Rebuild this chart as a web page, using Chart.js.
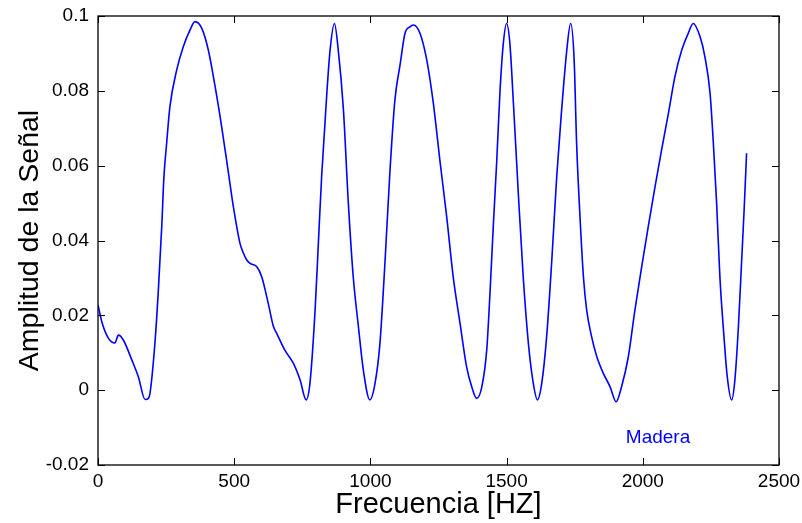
<!DOCTYPE html>
<html>
<head>
<meta charset="utf-8">
<script src="https://cdn.jsdelivr.net/npm/chart.js@4/dist/chart.umd.min.js"></script>
<style>
  html, body { margin: 0; padding: 0; background: #fff; }
  #wrap { width: 802px; height: 523px; }
</style>
</head>
<body>
<div id="wrap"><canvas id="senalChart"></canvas></div>
<script>
// frequency [Hz]
var freq = [0, 15, 38, 62, 75, 93, 124, 148, 173, 185, 191, 209, 221, 234, 242, 252, 264, 289, 313, 338,
  356, 381, 405, 430, 454, 478, 497, 521, 534, 546, 558, 583, 601, 625, 644, 656, 686, 717, 742, 764,
  778, 797, 809, 821, 840, 852, 868, 882, 901, 919, 937, 956, 974, 998, 1017, 1035, 1054, 1072, 1090, 1109,
  1127, 1145, 1158, 1182, 1207, 1231, 1255, 1280, 1304, 1329, 1353, 1372, 1390, 1409, 1427, 1439, 1451, 1464, 1476, 1488,
  1500, 1512, 1525, 1543, 1561, 1580, 1598, 1613, 1629, 1647, 1666, 1684, 1702, 1721, 1735, 1748, 1757, 1769, 1782, 1794,
  1812, 1831, 1855, 1880, 1902, 1922, 1947, 1971, 1996, 2020, 2045, 2069, 2094, 2118, 2143, 2167, 2185, 2210, 2228, 2247,
  2259, 2271, 2283, 2298, 2310, 2326, 2338, 2351, 2363, 2372, 2381];

// signal amplitude
var amp = [0.0228, 0.018, 0.0139, 0.0126, 0.0147, 0.0134, 0.0081, 0.0036, -0.0025, -0.0022, -0.0008, 0.0126, 0.026, 0.0437, 0.057, 0.066, 0.0758, 0.0856, 0.0918, 0.0963,
  0.0985, 0.0967, 0.0909, 0.0811, 0.0704, 0.0585, 0.049, 0.0393, 0.0366, 0.0348, 0.0339, 0.033, 0.0303, 0.0232, 0.017, 0.0152, 0.0107, 0.0072, 0.0027, -0.0026,
  0.0018, 0.0214, 0.0393, 0.0571, 0.0793, 0.0909, 0.098, 0.0909, 0.0749, 0.05, 0.0303, 0.017, 0.0054, -0.0026, 0.0018, 0.0125, 0.0348, 0.0588, 0.0776, 0.087,
  0.0954, 0.0971, 0.0976, 0.0954, 0.0882, 0.0767, 0.0615, 0.0464, 0.0303, 0.0179, 0.0063, 0.0009, -0.0022, 0.0009, 0.0107, 0.0259, 0.0437, 0.0615, 0.0802, 0.0927,
  0.098, 0.0927, 0.0767, 0.0526, 0.0303, 0.0125, 0.0018, -0.0026, 0.0018, 0.0143, 0.0348, 0.0571, 0.0749, 0.0909, 0.098, 0.0882, 0.066, 0.047, 0.0303, 0.0214,
  0.0143, 0.009, 0.0045, 0.0009, -0.0031, 0.0009, 0.009, 0.0214, 0.033, 0.0437, 0.0544, 0.0642, 0.074, 0.0838, 0.0909, 0.0954, 0.098, 0.0945, 0.0891, 0.0793,
  0.066, 0.05, 0.0303, 0.0143, 0.0036, -0.0026, 0.0027, 0.017, 0.0348, 0.0482, 0.0633];

var xTicks = [0, 500, 1000, 1500, 2000, 2500];
var yTicks = [-0.02, 0, 0.02, 0.04, 0.06, 0.08, 0.1];
var legendText = "Madera";
var legendPos = [2056, -0.0128];

var points = [];
for (var i = 0; i < freq.length; i++) {
  points.push({x: freq[i], y: amp[i]});
}

// box with inward ticks on all sides, like the matlab figure
var boxPlugin = {
  id: 'boxTicks',
  afterDatasetsDraw: function(chart) {
    var ctx = chart.ctx;
    var a = chart.chartArea;
    var xs = chart.scales.x, ys = chart.scales.y;
    var len = 7;
    ctx.save();
    ctx.strokeStyle = '#000';
    ctx.lineWidth = 1;
    ctx.beginPath();
    xTicks.forEach(function(v) {
      var px = Math.round(xs.getPixelForValue(v)) + 0.5;
      ctx.moveTo(px, a.bottom); ctx.lineTo(px, a.bottom - len);
      ctx.moveTo(px, a.top); ctx.lineTo(px, a.top + len);
    });
    yTicks.forEach(function(v) {
      var py = Math.round(ys.getPixelForValue(v)) + 0.5;
      ctx.moveTo(a.left, py); ctx.lineTo(a.left + len, py);
      ctx.moveTo(a.right, py); ctx.lineTo(a.right - len, py);
    });
    ctx.stroke();
    ctx.lineWidth = 1.3;
    ctx.strokeRect(a.left, a.top, a.right - a.left, a.bottom - a.top);

    ctx.fillStyle = '#0000ff';
    ctx.font = '19px "Liberation Sans", Arial, sans-serif';
    ctx.textAlign = 'center';
    ctx.textBaseline = 'middle';
    ctx.fillText(legendText, xs.getPixelForValue(legendPos[0]), ys.getPixelForValue(legendPos[1]));
    ctx.restore();
  }
};

var fontFam = '"Liberation Sans", Arial, sans-serif';

// no automatic label padding, layout padding sets the plot box
var noPad = function(scale) {
  scale.paddingTop = 0; scale.paddingBottom = 0;
  scale.paddingLeft = 0; scale.paddingRight = 0;
};

new Chart(document.getElementById('senalChart').getContext('2d'), {
  type: 'line',
  data: {
    datasets: [{
      data: points,
      borderColor: '#0000ff',
      borderWidth: 1.6,
      pointRadius: 0,
      cubicInterpolationMode: 'monotone',
      fill: false
    }]
  },
  options: {
    responsive: true,
    maintainAspectRatio: false,
    animation: false,
    layout: { padding: { top: 16, right: 23, left: 0, bottom: 0 } },
    plugins: { legend: { display: false }, tooltip: { enabled: false } },
    scales: {
      x: {
        type: 'linear',
        min: 0,
        max: 2500,
        afterBuildTicks: function(scale) {
          scale.ticks = xTicks.map(function(v) { return {value: v}; });
        },
        afterFit: function(scale) { scale.height = 58; noPad(scale); },
        grid: { display: false, drawTicks: false },
        border: { display: false },
        ticks: {
          color: '#000', padding: 5, maxRotation: 0, font: { family: fontFam, size: 19 },
          callback: function(v) { return String(v); }
        },
        title: { display: true, text: 'Frecuencia [HZ]', color: '#000', padding: { top: 0, bottom: 1 }, font: { family: fontFam, size: 29 } }
      },
      y: {
        type: 'linear',
        min: -0.02,
        max: 0.1,
        afterBuildTicks: function(scale) {
          scale.ticks = yTicks.map(function(v) { return {value: v}; });
        },
        afterFit: function(scale) { scale.width = 98; noPad(scale); },
        grid: { display: false, drawTicks: false },
        border: { display: false },
        ticks: {
          color: '#000', padding: 9, font: { family: fontFam, size: 19 },
          callback: function(v) { return String(Number(v.toFixed(2))); }
        },
        title: { display: true, text: 'Amplitud de la Señal', color: '#000', padding: { top: 13, bottom: 0 }, font: { family: fontFam, size: 28.5 } }
      }
    }
  },
  plugins: [boxPlugin]
});
</script>
</body>
</html>
